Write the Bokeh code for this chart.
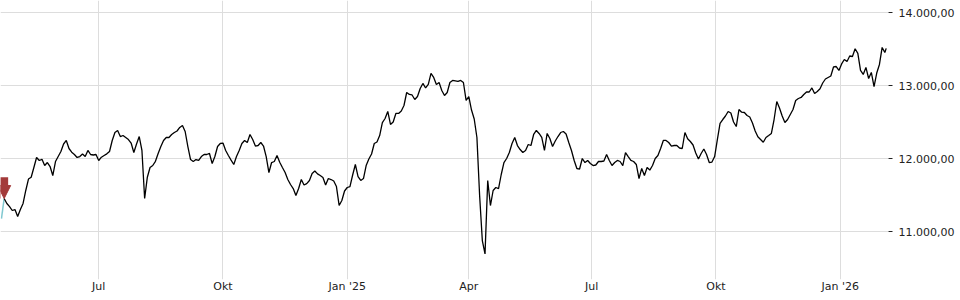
import pandas as pd
from bokeh.plotting import figure
from bokeh.layouts import column
from bokeh.models import FixedTicker, Range1d, Arrow, NormalHead, Label
from bokeh.embed import file_html
from bokeh.resources import INLINE

# ---------------- data ----------------
start_date = "2024-04-20"          # first sample, one sample every 2 days
values = [
    11182, 11456, 11388, 11346, 11292, 11305, 11209, 11305, 11388, 11566,
    11723, 11748, 11881, 12018, 11977, 11993, 11908, 11949, 11894, 11771,
    11963, 12031, 12100, 12203, 12251, 12141, 12090, 12059, 12018, 12031,
    12066, 12031, 12114, 12059, 12052, 12059, 11977, 12022, 12045, 12068,
    12100, 12251, 12360, 12388, 12305, 12319, 12292, 12264, 12216, 12086,
    12203, 12305, 12114, 11456, 11748, 11881, 11908, 11966, 12073, 12168,
    12251, 12292, 12292, 12333, 12360, 12381, 12429, 12456, 12374, 12168,
    11990, 11963, 11990, 11977, 12031, 12059, 12059, 12073, 11936, 12031,
    12168, 12210, 12216, 12114, 12045, 11983, 11922, 12031, 12114, 12210,
    12251, 12223, 12333, 12264, 12175, 12182, 12223, 12175, 12031, 11812,
    11949, 11963, 12045, 11953, 11881, 11812, 11716, 11648, 11593, 11497,
    11593, 11716, 11641, 11661, 11703, 11799, 11833, 11794, 11771, 11744,
    11641, 11730, 11716, 11696, 11620, 11360, 11429, 11559, 11607, 11620,
    11778, 11922, 11757, 11703, 11730, 11908, 11997, 12066, 12210, 12230,
    12319, 12497, 12552, 12648, 12470, 12504, 12621, 12621, 12655, 12730,
    12908, 12881, 12874, 12812, 12853, 12963, 13032, 12970, 13018, 13169,
    13114, 13018, 13045, 12936, 12867, 12908, 13045, 13073, 13066, 13059,
    13073, 13045, 12799, 12853, 12668, 12545, 12292, 11497, 10881, 10698,
    11703, 11360, 11566, 11607, 11593, 11785, 11949, 12004, 12086, 12210,
    12292, 12182, 12127, 12086, 12114, 12196, 12182, 12333, 12388, 12347,
    12292, 12114, 12347, 12278, 12168, 12244, 12305, 12360, 12374, 12340,
    12223, 12114, 11977, 11867, 11860, 12004, 11949, 11977, 11936, 11908,
    11915, 11963, 11963, 11970, 12059, 11977, 11908, 11949, 11977, 11963,
    11908, 12086, 12031, 11977, 11963, 11922, 11730, 11867, 11771, 11881,
    11846, 11908, 12004, 12045, 12141, 12251, 12251, 12223, 12175, 12182,
    12182, 12148, 12141, 12360, 12274, 12237, 12189, 12079, 11997, 12073,
    12134, 12059, 11949, 11956, 12031, 12264, 12484, 12538, 12586, 12648,
    12627, 12504, 12442, 12675, 12638, 12634, 12593, 12573, 12490, 12381,
    12301, 12264, 12227, 12292, 12319, 12347, 12538, 12785, 12696, 12586,
    12497, 12538, 12607, 12675, 12799, 12826, 12840, 12881, 12915, 12915,
    12970, 12894, 12922, 12959, 13038, 13093, 13114, 13134, 13258, 13264,
    13210, 13299, 13360, 13333, 13408, 13401, 13507, 13443, 13210, 13155,
    13251, 13100, 13182, 12990, 13175, 13292, 13525, 13456,
]
last_date = "2026-02-04"
last_value = 13512.2
marker_date = "2024-04-22"
marker_value = 11456

tick_dates = ["2024-07-01", "2024-10-01", "2025-01-01", "2025-04-01",
              "2025-07-01", "2025-10-01", "2026-01-01"]
tick_labels = ["Jul", "Okt", "Jan '25", "Apr", "Jul", "Okt", "Jan '26"]
y_ticks = [11000, 12000, 13000, 14000]

x_start = "2024-04-19 07:00"
x_end = "2026-02-05 17:00"
y_start, y_end = 10347, 14168

# ---------------- helpers ----------------
def de_fmt(v):
    return f"{v:,.2f}".replace(",", "X").replace(".", ",").replace("X", ".")

def ms(d):
    return pd.Timestamp(d).value // 10**6

dates = list(pd.date_range(start_date, periods=len(values), freq="2D")) + [pd.Timestamp(last_date)]
vals = values + [last_value]
mk = pd.Timestamp(marker_date)
pre_x = [d for d in dates if d <= mk]
pre_y = [v for d, v in zip(dates, vals) if d <= mk]
post_x = [d for d in dates if d >= mk]
post_y = [v for d, v in zip(dates, vals) if d >= mk]

FONT = "DejaVu Sans"
TXT = "#222222"
GRID = "#dddddd"
RED = "#a33a3a"

xr = Range1d(pd.Timestamp(x_start), pd.Timestamp(x_end))

p = figure(width=960, height=295, x_axis_type="datetime", y_axis_location="right",
           output_backend="svg", toolbar_location=None,
           x_range=xr, y_range=Range1d(y_start, y_end),
           min_border_left=0, min_border_right=72, min_border_top=0, min_border_bottom=13)
p.outline_line_color = None
p.background_fill_color = "white"
p.border_fill_color = "white"

tick_ms = [ms(d) for d in tick_dates]

xa = p.xaxis[0]
xa.ticker = FixedTicker(ticks=tick_ms)
xa.major_label_overrides = {t: l for t, l in zip(tick_ms, tick_labels)}
xa.major_tick_out = 0
xa.major_tick_in = 0
xa.minor_tick_line_color = None
xa.axis_line_color = None
xa.major_label_standoff = 0
xa.major_label_text_font = FONT
xa.major_label_text_font_size = "11px"
xa.major_label_text_color = TXT

ya = p.yaxis[0]
ya.ticker = FixedTicker(ticks=y_ticks)
ya.major_label_overrides = {t: de_fmt(t) for t in y_ticks}
ya.major_tick_out = 4
ya.major_tick_in = 0
ya.minor_tick_line_color = None
ya.axis_line_color = None
ya.major_tick_line_color = TXT
ya.major_label_standoff = 6
ya.major_label_text_font = FONT
ya.major_label_text_font_size = "11px"
ya.major_label_text_color = TXT

p.xgrid.ticker = FixedTicker(ticks=tick_ms)
p.ygrid.ticker = FixedTicker(ticks=y_ticks)
p.xgrid.grid_line_color = GRID
p.ygrid.grid_line_color = GRID

p.line(pre_x, pre_y, line_color="#80c8d0", line_width=1.5)
p.line(post_x, post_y, line_color="black", line_width=1.3)

p.add_layout(Arrow(end=NormalHead(size=13, fill_color=RED, line_color=RED),
                   x_start=ms(marker_date), y_start=marker_value + 290,
                   x_end=ms(marker_date), y_end=marker_value,
                   line_color=RED, line_width=8))

p.add_layout(Label(x=ms(x_end), y=last_value, x_offset=10, text=de_fmt(last_value),
                   text_baseline="middle", text_font=FONT, text_font_size="11px",
                   text_color=TXT))

# small strip below the month labels carrying the x tick marks
p2 = figure(width=960, height=5, x_axis_type=None, y_axis_type=None,
            output_backend="svg", toolbar_location=None,
            x_range=xr, y_range=Range1d(0, 5),
            min_border_left=0, min_border_right=72, min_border_top=0, min_border_bottom=0)
p2.outline_line_color = None
p2.grid.visible = False
p2.background_fill_color = "white"
p2.border_fill_color = "white"
tick_dt = [pd.Timestamp(d) for d in tick_dates]
p2.segment(x0=tick_dt, y0=[5] * len(tick_dt), x1=tick_dt, y1=[2] * len(tick_dt),
           line_color=TXT, line_width=1)

layout = column(p, p2, spacing=0)
open("out.html", "w").write(file_html(layout, INLINE))
